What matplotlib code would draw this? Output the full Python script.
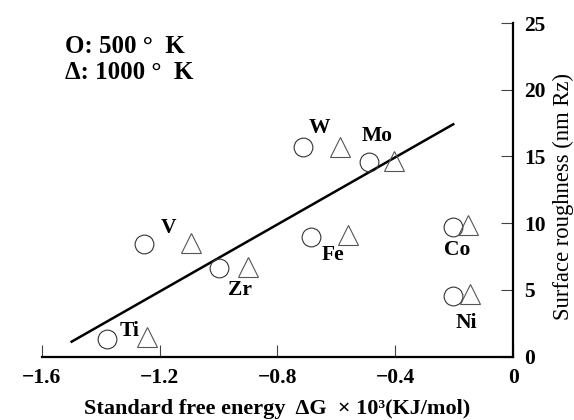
import matplotlib
matplotlib.use("Agg")
import matplotlib.pyplot as plt

plt.rcParams['font.family'] = ['Liberation Serif', 'DejaVu Serif']
plt.rcParams['axes.unicode_minus'] = True

# ---- data ----
metals = ['Ti', 'V', 'Zr', 'Fe', 'W', 'Mo', 'Co', 'Ni']
dg_500 = [-1.380, -1.252, -0.999, -0.685, -0.714, -0.490, -0.205, -0.203]
rz_500 = [1.33, 8.43, 6.63, 9.00, 15.73, 14.61, 9.74, 4.55]
dg_1000 = [-1.243, -1.092, -0.899, -0.560, -0.589, -0.405, -0.155, -0.147]
rz_1000 = [1.45, 8.55, 6.75, 9.13, 15.73, 14.68, 9.87, 4.67]
label_x = [-1.301, -1.169, -0.927, -0.610, -0.657, -0.460, -0.189, -0.158]
label_y = [1.95, 9.63, 5.00, 7.63, 17.11, 16.53, 7.99, 2.50]
fit_x = [-1.502, -0.200]
fit_y = [1.08, 17.46]
xticks = [-1.6, -1.2, -0.8, -0.4, 0]
xticklabels = ['\u22121.6', '\u22121.2', '\u22120.8', '\u22120.4', '0']
yticks = [0, 5, 10, 15, 20, 25]
yticklabels = ['0', '5', '10', '15', '20', '25']

fig = plt.figure(figsize=(5.74, 4.2), dpi=100)
ax = fig.add_axes([0.0726, 0.1507, 0.8216, 0.7945])

ax.plot(fit_x, fit_y, color='black', lw=1.8, solid_capstyle='butt')
ax.plot(dg_500, rz_500, linestyle='none', marker='o', ms=13.5,
        mfc='none', mec='#333333', mew=0.8)
ax.plot(dg_1000, rz_1000, linestyle='none', marker='^', ms=14,
        mfc='none', mec='#555555', mew=0.8)

for m, lx, ly in zip(metals, label_x, label_y):
    ax.text(lx, ly, m, ha='center', va='center', fontsize=15.5,
            fontweight='bold', color='black')

ax.set_xlim(-1.6, 0)
ax.set_ylim(0, 25)

for s in ['left', 'top']:
    ax.spines[s].set_visible(False)
for s in ['bottom', 'right']:
    ax.spines[s].set_linewidth(1.6)
    ax.spines[s].set_color('black')

ax.yaxis.tick_right()
ax.set_xticks(xticks)
ax.set_xticklabels(xticklabels, fontsize=15.5, fontweight='bold')
ax.set_yticks(yticks)
ax.set_yticklabels(yticklabels, fontsize=15.5, fontweight='bold')
ax.tick_params(axis='x', direction='in', length=9, width=0.8,
               color='#444444', pad=8)
ax.tick_params(axis='y', direction='in', length=9, width=0.8,
               color='#444444', pad=8, left=False, right=True)

ax.set_xlabel('Standard free energy  \u0394G  \u00d7 10\u00b3(KJ/mol)',
              fontsize=16, fontweight='bold', labelpad=8)
fig.text(0.982, 0.5333, 'Surface roughness (nm Rz)', rotation=90,
         ha='center', va='center', fontsize=16.3)

fig.text(65 / 574, 1 - 46.7 / 420, 'O: 500 \u00b0  K', ha='left', va='center',
         fontsize=18, fontweight='bold')
fig.text(65 / 574, 1 - 72.7 / 420, '\u0394: 1000 \u00b0  K', ha='left', va='center',
         fontsize=18, fontweight='bold')

fig.savefig('out.png', dpi=100, facecolor='white')
